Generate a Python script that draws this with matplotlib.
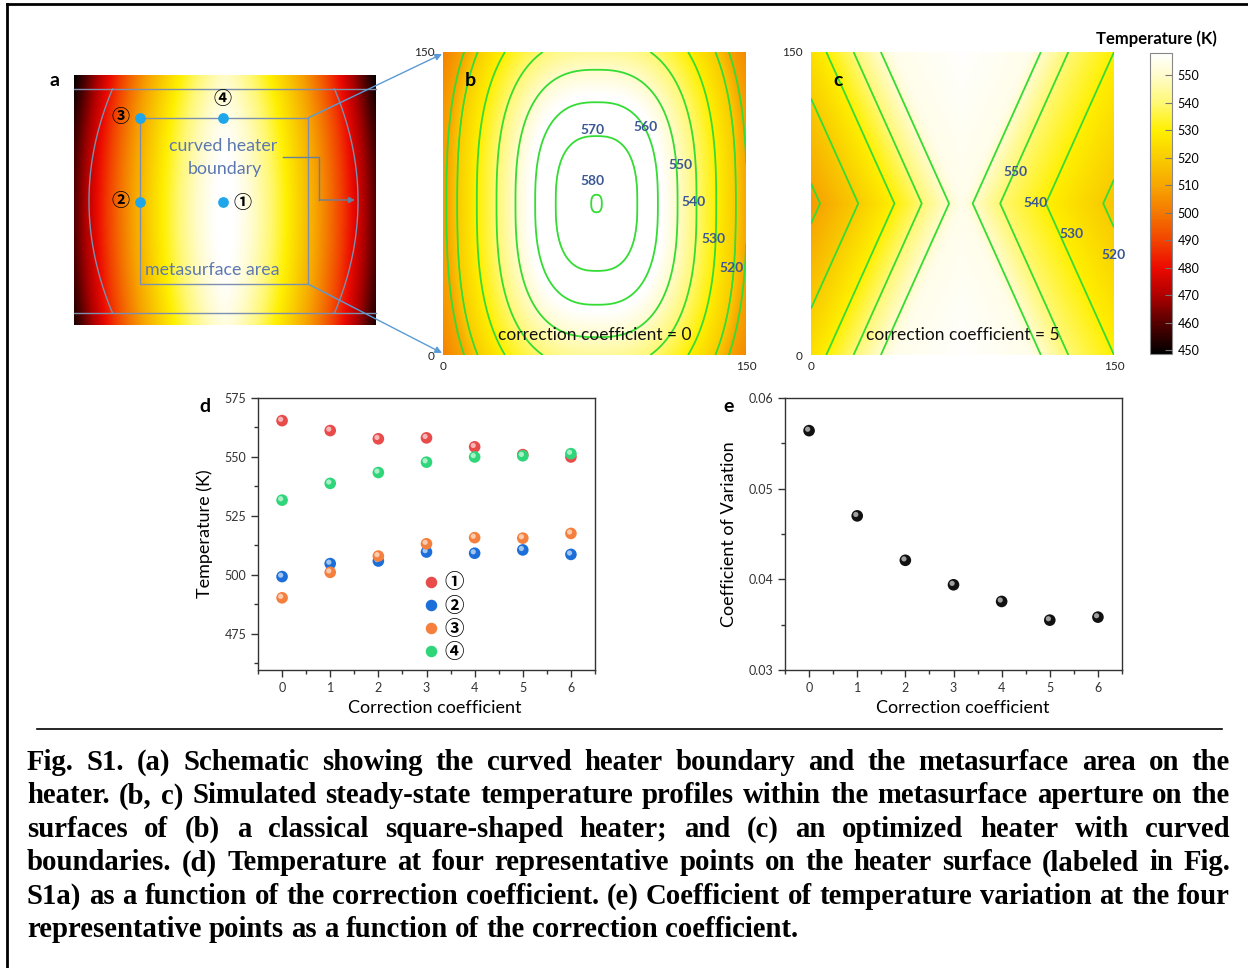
import numpy as np
import matplotlib
matplotlib.use('Agg')
import matplotlib.pyplot as plt
from matplotlib.colors import LinearSegmentedColormap, Normalize, to_rgb
from matplotlib.ticker import MultipleLocator, FormatStrFormatter
from matplotlib.lines import Line2D
from matplotlib.transforms import offset_copy

plt.rcParams['font.family'] = ['Lato', 'DejaVu Sans']

W, H = 1248, 968

# ---------------- data ----------------
coef = [0, 1, 2, 3, 4, 5, 6]
temp_p1 = [565.4, 561.2, 557.7, 558.1, 554.3, 551.0, 550.0]
temp_p2 = [499.3, 504.8, 505.9, 509.7, 509.2, 510.6, 508.7]
temp_p3 = [490.3, 501.1, 508.0, 513.2, 515.8, 515.6, 517.6]
temp_p4 = [531.7, 538.8, 543.4, 547.8, 550.0, 550.5, 551.4]
cov = [0.0564, 0.0470, 0.0421, 0.0394, 0.03756, 0.0355, 0.03583]
point_labels = ['①', '②', '③', '④']
point_colors = ['#e94a4a', '#1c6fd8', '#f5803e', '#2fd679']

# colour scale
cbar_vmin, cbar_vmax = 448.7, 558.0
cbar_ticks = [450, 460, 470, 480, 490, 500, 510, 520, 530, 540, 550]
cmap_T = [448.7, 460, 470, 480, 490, 500, 510, 520, 530, 540, 550, 558]
cmap_hex = ['#000000', '#560000', '#b00000', '#ec0a00', '#f24400', '#f47800',
            '#f7a600', '#f9cc00', '#fff000', '#fff874', '#fffccc', '#ffffff']

contour_levels = [510, 520, 530, 540, 550, 560, 570, 580]

# panel b: contour half-widths (fraction of half-size) at mid height
b_center = (76.0, 75.0)
b_aspect = 1.65
b_r = [0.0, 0.035, 0.27, 0.405, 0.535, 0.66, 0.79, 0.92, 0.99, 1.3]
b_T = [581.5, 580, 570, 560, 550, 540, 530, 520, 510, 490]
b_labels = ['580', '570', '560', '550', '540', '530', '520']
b_label_xy = [(73.8, 86.0), (73.8, 111.6), (100.2, 112.9), (117.5, 93.9),
              (123.9, 75.8), (133.7, 57.6), (142.7, 43.0)]

# panel c: V-shaped contours
c_center = (75.0, 75.0)
c_slope = 0.45
c_left_s = [-0.6, 0.0, 0.089, 0.269, 0.449, 0.688, 0.94, 1.3]
c_left_T = [558.5, 554.5, 550, 540, 530, 520, 510, 497]
c_right_s = [-0.6, 0.0, 0.067, 0.248, 0.55, 0.929, 1.3]
c_right_T = [558.5, 554.5, 550, 540, 530, 520, 510]
c_labels = ['550', '540', '530', '520']
c_label_xy = [(101.3, 90.6), (111.4, 75.4), (129.0, 60.0), (149.7, 49.4)]

# panel a: heater surface
a_T_center, a_T_edge, a_T_vert = 560.0, 460.0, 9.0

caption_lines = [
    "Fig. S1. (a) Schematic showing the curved heater boundary and the metasurface area on the",
    "heater. (b, c) Simulated steady-state temperature profiles within the metasurface aperture on the",
    "surfaces of (b) a classical square-shaped heater; and (c) an optimized heater with curved",
    "boundaries. (d) Temperature at four representative points on the heater surface (labeled in Fig.",
    "S1a) as a function of the correction coefficient. (e) Coefficient of temperature variation at the four",
    "representative points as a function of the correction coefficient.",
]

# ---------------- helpers ----------------
fig = plt.figure(figsize=(W / 100, H / 100), dpi=100)


def rect(x0, y0, x1, y1):
    return [x0 / W, 1 - y1 / H, (x1 - x0) / W, (y1 - y0) / H]


pos = [(v - cmap_T[0]) / (cmap_T[-1] - cmap_T[0]) for v in cmap_T]
cmap = LinearSegmentedColormap.from_list('heat', list(zip(pos, cmap_hex)))
norm = Normalize(cbar_vmin, cbar_vmax)

grid = np.linspace(0, 150, 301)
X, Y = np.meshgrid(grid, grid)

# ---------------- panel a ----------------
axa = fig.add_axes(rect(74, 75, 376, 325))
ga = np.linspace(-1, 1, 301)
UA, VA = np.meshgrid(ga, np.linspace(-1, 1, 251))
TA = a_T_center - (a_T_center - a_T_edge) * np.abs(UA) ** 1.35 - a_T_vert * (VA + 0.1) ** 2
axa.imshow(TA, cmap=cmap, norm=norm, origin='lower', aspect='auto',
           extent=(0, 1, 0, 1), interpolation='bilinear')
axa.set_axis_off()

# ---------------- panel b ----------------
axb = fig.add_axes(rect(443, 52, 746, 355))
U = np.abs(X - b_center[0]) / 75.0
V = np.abs(Y - b_center[1]) / 75.0 / b_aspect
R = (U ** 2.6 + V ** 2.6) ** (1 / 2.6)
TB = np.interp(R, b_r, b_T)
im_b = axb.imshow(TB, cmap=cmap, norm=norm, origin='lower', aspect='auto',
                  extent=(0, 150, 0, 150), interpolation='bilinear')
axb.contour(X, Y, TB, levels=contour_levels, colors='#34dc34', linewidths=1.3)
for lab, (lx, ly) in zip(b_labels, b_label_xy):
    axb.text(lx, ly, lab, color='#3b5794', fontsize=10, weight='bold',
             ha='center', va='center')
axb.text(75, 10, 'correction coefficient = 0', fontsize=12.5, ha='center', va='center',
         color='#111111')
axb.text(0.09, 0.905, 'b', transform=axb.transAxes, fontsize=14, weight='bold',
         ha='center', va='center')

# ---------------- panel c ----------------
axc = fig.add_axes(rect(811, 52, 1114, 355))
UC = (X - c_center[0]) / 75.0
VC = np.abs(Y - c_center[1]) / 75.0
SC = np.abs(UC) - c_slope * VC
TC = np.where(UC < 0, np.interp(SC, c_left_s, c_left_T), np.interp(SC, c_right_s, c_right_T))
axc.imshow(TC, cmap=cmap, norm=norm, origin='lower', aspect='auto',
           extent=(0, 150, 0, 150), interpolation='bilinear')
axc.contour(X, Y, TC, levels=contour_levels, colors='#34dc34', linewidths=1.3)
for lab, (lx, ly) in zip(c_labels, c_label_xy):
    axc.text(lx, ly, lab, color='#3b5794', fontsize=10, weight='bold',
             ha='center', va='center', clip_on=False)
axc.text(75, 10, 'correction coefficient = 5', fontsize=12.5, ha='center', va='center',
         color='#111111')
axc.text(0.09, 0.905, 'c', transform=axc.transAxes, fontsize=14, weight='bold',
         ha='center', va='center')

for ax in (axb, axc):
    ax.set_xlim(0, 150)
    ax.set_ylim(0, 150)
    ax.set_xticks([0, 150])
    ax.set_yticks([0, 150])
    ax.tick_params(length=0, labelsize=8.5, pad=6, colors='#222222')
    ax.tick_params(axis='x', pad=4)
    for sp in ax.spines.values():
        sp.set_visible(False)

# ---------------- colour bar ----------------
cax = fig.add_axes(rect(1150, 53, 1172, 354))
cb = fig.colorbar(im_b, cax=cax, ticks=cbar_ticks)
cb.outline.set_edgecolor('#888888')
cb.outline.set_linewidth(0.8)
cax.tick_params(direction='in', length=5, width=0.8, color='#777777', labelsize=9, pad=4)

# ---------------- sphere helper ----------------


def spheres(ax, x, y, color, size, z):
    ax.scatter(x, y, s=size, color=color, edgecolors='none', zorder=z, clip_on=False)
    hl = tuple(0.4 * np.array(to_rgb(color)) + 0.6)
    tr = offset_copy(ax.transData, fig=fig, x=-1.4, y=1.4, units='dots')
    ax.scatter(x, y, s=size * 0.2, color=hl, edgecolors='none', zorder=z + 0.5,
               transform=tr, clip_on=False)


def style_axes(ax):
    for sp in ax.spines.values():
        sp.set_linewidth(1.0)
        sp.set_color('#333333')
    ax.tick_params(which='major', direction='out', length=5, width=1, labelsize=9,
                   colors='#333333')
    ax.tick_params(which='minor', direction='out', length=3, width=1, colors='#333333')
    ax.set_xlim(-0.5, 6.5)
    ax.set_xticks(coef)
    ax.xaxis.set_minor_locator(MultipleLocator(0.5))


# ---------------- panel d ----------------
axd = fig.add_axes(rect(258, 398, 595, 670))
for i, series in enumerate([temp_p1, temp_p2, temp_p3, temp_p4]):
    spheres(axd, coef, series, point_colors[i], 70, 3 + i)
style_axes(axd)
axd.set_ylim(459.7, 575)
axd.set_yticks([475, 500, 525, 550, 575])
axd.yaxis.set_minor_locator(MultipleLocator(12.5))
axd.set_xlabel('Correction coefficient', fontsize=13)
axd.set_ylabel('Temperature (K)', fontsize=13)
axd.xaxis.label.set_va('center')
axd.yaxis.label.set_va('center')
axd.xaxis.set_label_coords(0.525, -0.14)
axd.yaxis.set_label_coords(-0.157, 0.5)
handles = [Line2D([], [], marker='o', ls='', color=c, markersize=8.3, markeredgewidth=0)
           for c in point_colors]
leg = axd.legend(handles, point_labels, loc='upper left', frameon=False,
                 bbox_to_anchor=(421 / W, 1 - 573.5 / H), bbox_transform=fig.transFigure,
                 borderpad=0, borderaxespad=0, handlelength=1.0, handletextpad=0.2,
                 labelspacing=0.21,
                 prop={'family': ['Noto Sans CJK JP'], 'weight': 'bold', 'size': 14})

# ---------------- panel e ----------------
axe = fig.add_axes(rect(785, 398, 1122, 670))
spheres(axe, coef, cov, '#111111', 70, 3)
style_axes(axe)
axe.set_ylim(0.03, 0.06)
axe.set_yticks([0.03, 0.04, 0.05, 0.06])
axe.yaxis.set_major_formatter(FormatStrFormatter('%.2f'))
axe.yaxis.set_minor_locator(MultipleLocator(0.005))
axe.set_xlabel('Correction coefficient', fontsize=13)
axe.set_ylabel('Coefficient of Variation', fontsize=13)
axe.xaxis.label.set_va('center')
axe.yaxis.label.set_va('center')
axe.xaxis.set_label_coords(0.528, -0.14)
axe.yaxis.set_label_coords(-0.166, 0.5)

# ---------------- overlay (pixel coordinates) ----------------
ov = fig.add_axes([0, 0, 1, 1], zorder=20)
ov.set_xlim(0, W)
ov.set_ylim(H, 0)
ov.set_axis_off()
ov.patch.set_alpha(0)

line_c = '#7d8fae'
ov.plot([74, 376], [89, 89], color=line_c, lw=1)
ov.plot([74, 376], [313, 313], color=line_c, lw=1)
yy = np.linspace(89, 313, 60)
tt = ((yy - 201) / 112.0) ** 2
ov.plot(89 + 23.5 * tt, yy, color=line_c, lw=1)
ov.plot(358 - 23.5 * tt, yy, color=line_c, lw=1)
ov.plot([140, 308, 308, 140, 140], [118, 118, 284, 284, 118], color=line_c, lw=1)
ov.scatter([223, 140, 140, 223], [202, 202, 118, 118], s=45, color='#1fa6ea', zorder=5)
circ = dict(family=['Noto Sans CJK JP'], weight='bold', fontsize=13, ha='center', va='center')
ov.text(243, 202, '①', **circ)
ov.text(121, 201, '②', **circ)
ov.text(121, 117, '③', **circ)
ov.text(223, 99, '④', **circ)
ov.text(223, 146, 'curved heater', color='#5c78b0', fontsize=12.8, ha='center', va='center')
ov.text(225, 169, 'boundary', color='#5c78b0', fontsize=12.8, ha='center', va='center')
ov.text(212, 270, 'metasurface area', color='#5c78b0', fontsize=12.8, ha='center', va='center')
ov.plot([283, 319, 319], [157, 157, 200], color='#66809f', lw=1)
ov.annotate('', xy=(355, 200), xytext=(319, 200),
            arrowprops=dict(arrowstyle='-|>', color='#66809f', lw=1, mutation_scale=9,
                            shrinkA=0, shrinkB=0))
for y0, y1 in [(118, 54), (284, 353)]:
    ov.annotate('', xy=(442, y1), xytext=(308, y0),
                arrowprops=dict(arrowstyle='-|>', color='#5b9bd5', lw=1, mutation_scale=10,
                                shrinkA=0, shrinkB=0))
ov.text(55, 81, 'a', fontsize=14, weight='bold', ha='center', va='center')
ov.text(205, 407, 'd', fontsize=14, weight='bold', ha='center', va='center')
ov.text(729, 407, 'e', fontsize=14, weight='bold', ha='center', va='center')
ov.text(1156, 39, 'Temperature (K)', fontsize=12, weight='bold', ha='center', va='center')

# border and rule
ov.plot([6.5, 6.5], [H + 5, 3.5], color='black', lw=2, solid_capstyle='projecting')
ov.plot([6.5, W + 5], [3.5, 3.5], color='black', lw=2, solid_capstyle='projecting')
ov.plot([37, 1222], [729, 729], color='black', lw=1.2)

# ---------------- caption (justified) ----------------
renderer = fig.canvas.get_renderer()
cap_font = dict(family='Liberation Serif', weight='bold')


def text_w(s, fs):
    t = ov.text(0, 0, s, fontsize=fs, **cap_font)
    w = t.get_window_extent(renderer).width
    t.remove()
    return w


x_left, x_right = 27, 1230
target = x_right - x_left
fs0 = 17.0
fs = fs0 * target / text_w(caption_lines[4], fs0) * 0.995
space = text_w('a a', fs) - text_w('aa', fs)
for i, line in enumerate(caption_lines):
    words = line.split(' ')
    widths = [text_w(w, fs) for w in words]
    if i < len(caption_lines) - 1:
        gap = (target - sum(widths)) / (len(words) - 1)
    else:
        gap = space
    x = x_left
    yb = 770 + 33.4 * i
    for w, wd in zip(words, widths):
        ov.text(x, yb, w, fontsize=fs, ha='left', va='baseline', color='black', **cap_font)
        x += wd + gap

fig.savefig('out.png', dpi=100)
